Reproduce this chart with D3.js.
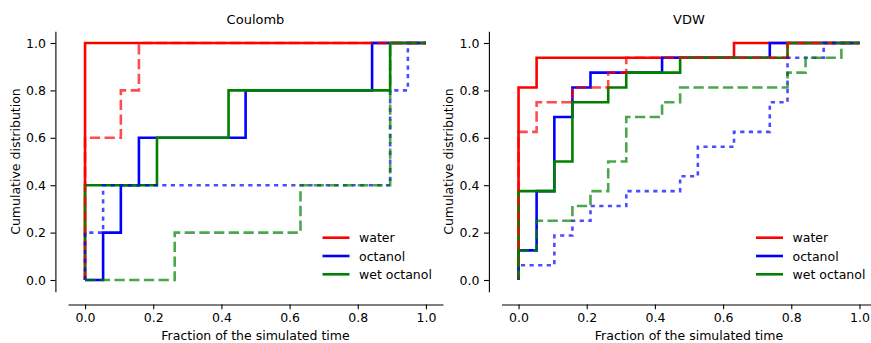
<!DOCTYPE html>
<html>
<head>
<meta charset="utf-8">
<script src="https://cdn.jsdelivr.net/npm/d3@7"></script>
<style>
  body { margin: 0; background: #fff; }
  text { font-family: "DejaVu Sans", sans-serif; fill: #000; }
</style>
</head>
<body>
<div id="my_dataviz"></div>
<script>
// Tick values and legend names
const xTicks = [0, 0.2, 0.4, 0.6, 0.8, 1.0];
const yTicks = [0, 0.2, 0.4, 0.6, 0.8, 1.0];
const solvents = ["water", "octanol", "wet octanol"];
const panelTitles = ["Coulomb", "VDW"];

// Coulomb: fraction where each step happens, and cumulative value after it
const coulombWaterX = [0];
const coulombWaterY = [1.0];
const coulombOctanolX = [0.053, 0.105, 0.158, 0.471, 0.842];
const coulombOctanolY = [0.2, 0.4, 0.6, 0.8, 1.0];
const coulombWetX = [0, 0.211, 0.421, 0.895];
const coulombWetY = [0.4, 0.6, 0.8, 1.0];
const coulombWaterDashX = [0, 0.105, 0.158];
const coulombWaterDashY = [0.6, 0.8, 1.0];
const coulombOctanolDashX = [0, 0.053, 0.895, 0.947];
const coulombOctanolDashY = [0.2, 0.4, 0.8, 1.0];
const coulombWetDashX = [0.263, 0.632, 0.895];
const coulombWetDashY = [0.2, 0.4, 1.0];

// VDW
const vdwWaterX = [0, 0.053, 0.632];
const vdwWaterY = [0.8125, 0.9375, 1.0];
const vdwOctanolX = [0, 0.053, 0.105, 0.158, 0.211, 0.421, 0.737];
const vdwOctanolY = [0.125, 0.375, 0.6875, 0.8125, 0.875, 0.9375, 1.0];
const vdwWetX = [0, 0.105, 0.158, 0.263, 0.316, 0.474, 0.789];
const vdwWetY = [0.375, 0.5, 0.75, 0.8125, 0.875, 0.9375, 1.0];
const vdwWaterDashX = [0, 0.053, 0.158, 0.263, 0.316, 0.789];
const vdwWaterDashY = [0.625, 0.75, 0.8125, 0.875, 0.9375, 1.0];
const vdwOctanolDashX = [0, 0.105, 0.158, 0.211, 0.316, 0.474, 0.526, 0.632, 0.737, 0.789, 0.895];
const vdwOctanolDashY = [0.0625, 0.1875, 0.25, 0.3125, 0.375, 0.4375, 0.5625, 0.625, 0.75, 0.9375, 1.0];
const vdwWetDashX = [0, 0.053, 0.158, 0.211, 0.263, 0.316, 0.421, 0.474, 0.789, 0.842, 0.947];
const vdwWetDashY = [0.125, 0.25, 0.3125, 0.375, 0.5, 0.6875, 0.75, 0.8125, 0.875, 0.9375, 1.0];

const colors = ["#ff0000", "#0000ff", "#008000"];
const dashes = ["10.3,4.4", "4.2,4.4", "10.3,4.4"];

const panels = [
  {
    solid: [[coulombWaterX, coulombWaterY], [coulombOctanolX, coulombOctanolY], [coulombWetX, coulombWetY]],
    dashed: [[coulombWaterDashX, coulombWaterDashY], [coulombOctanolDashX, coulombOctanolDashY], [coulombWetDashX, coulombWetDashY]]
  },
  {
    solid: [[vdwWaterX, vdwWaterY], [vdwOctanolX, vdwOctanolY], [vdwWetX, vdwWetY]],
    dashed: [[vdwWaterDashX, vdwWaterDashY], [vdwOctanolDashX, vdwOctanolDashY], [vdwWetDashX, vdwWetDashY]]
  }
];

// layout
const W = 871, H = 343;
const axLeft = [68, 501.5];
const axW = 375;
const axTop = 31.15, axBottom = 291.85;
const offset = 12.6;
const fs = 12.5;

const svg = d3.select("#my_dataviz")
  .append("svg")
  .attr("width", W)
  .attr("height", H)
  .style("display", "block");

svg.append("rect").attr("width", W).attr("height", H).attr("fill", "#fff");

// turn step lists into points: start at (0,0), end at x = 1
function stepPoints(xs, ys) {
  const pts = [[0, 0]];
  xs.forEach((x, i) => pts.push([x, ys[i]]));
  pts.push([1, ys[ys.length - 1]]);
  return pts;
}

panels.forEach((p, k) => {
  const x0 = axLeft[k];
  const xScale = d3.scaleLinear().domain([-0.05, 1.05]).range([x0, x0 + axW]);
  const yScale = d3.scaleLinear().domain([-0.05, 1.05]).range([axBottom, axTop]);
  const g = svg.append("g");

  // axes
  const xAxis = d3.axisBottom(xScale).tickValues(xTicks).tickFormat(d3.format(".1f"))
    .tickSizeInner(4.9).tickSizeOuter(0).tickPadding(4.2);
  const yAxis = d3.axisLeft(yScale).tickValues(yTicks).tickFormat(d3.format(".1f"))
    .tickSizeInner(4.9).tickSizeOuter(0).tickPadding(4.6);

  const gx = g.append("g")
    .attr("transform", `translate(0, ${axBottom + offset})`)
    .call(xAxis);
  const gy = g.append("g")
    .attr("transform", `translate(${x0 - offset}, 0)`)
    .call(yAxis);
  [gx, gy].forEach(a => {
    a.selectAll("path, line").attr("stroke", "#000").attr("stroke-width", 1.1);
    a.selectAll("text").style("font-family", "DejaVu Sans").style("font-size", fs + "px").attr("fill", "#000");
  });

  const line = d3.line()
    .x(d => xScale(d[0]))
    .y(d => yScale(d[1]))
    .curve(d3.curveStepAfter);

  // solid lines first, then dashed ones on top
  p.solid.forEach((s, i) => {
    g.append("path")
      .attr("d", line(stepPoints(s[0], s[1])))
      .attr("fill", "none")
      .attr("stroke", colors[i])
      .attr("stroke-width", 2.6);
  });
  p.dashed.forEach((s, i) => {
    g.append("path")
      .attr("d", line(stepPoints(s[0], s[1])))
      .attr("fill", "none")
      .attr("stroke", colors[i])
      .attr("stroke-opacity", 0.7)
      .attr("stroke-dasharray", dashes[i])
      .attr("stroke-width", 2.6);
  });

  // title and labels
  g.append("text")
    .attr("x", x0 + axW / 2)
    .attr("y", 24)
    .attr("text-anchor", "middle")
    .style("font-size", "13px")
    .text(panelTitles[k]);

  g.append("text")
    .attr("x", xScale(0.5))
    .attr("y", 339.5)
    .attr("text-anchor", "middle")
    .style("font-size", fs + "px")
    .text("Fraction of the simulated time");

  g.append("text")
    .attr("transform", `translate(${x0 - 53}, ${(axTop + axBottom) / 2}) rotate(-90)`)
    .attr("text-anchor", "middle")
    .attr("dominant-baseline", "central")
    .style("font-size", fs + "px")
    .text("Cumulative distribution");

  // legend
  const lx = x0 + axW - 120.5;
  const ly = [237.7, 256, 274.3];
  solvents.forEach((name, i) => {
    g.append("line")
      .attr("x1", lx).attr("x2", lx + 27)
      .attr("y1", ly[i]).attr("y2", ly[i])
      .attr("stroke", colors[i])
      .attr("stroke-width", 2.6);
    g.append("text")
      .attr("x", lx + 36.5)
      .attr("y", ly[i])
      .attr("dominant-baseline", "central")
      .style("font-size", fs + "px")
      .text(name);
  });
});
</script>
</body>
</html>
